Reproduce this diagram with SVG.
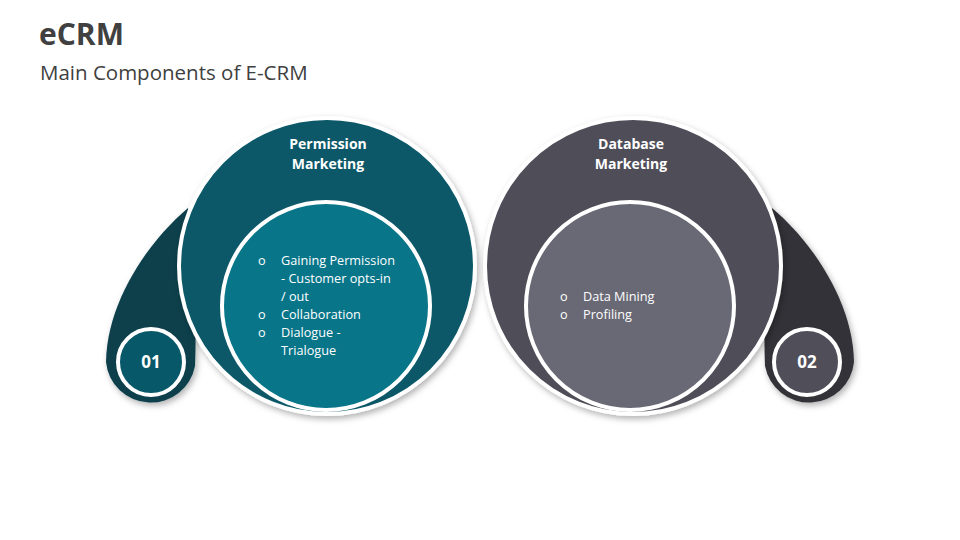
<svg xmlns="http://www.w3.org/2000/svg" width="960" height="540" viewBox="0 0 960 540">
<style>
.t{font-family:"Open Sans","Liberation Sans",sans-serif;fill:#fff}
.h{font-weight:bold;font-size:14px;text-anchor:middle}
.b{font-size:12.7px}
.n{font-weight:bold;font-size:17px;text-anchor:middle}
.ring{stroke:#fff;stroke-width:4}
</style>
<defs>
<filter id="sh" x="-20%" y="-20%" width="140%" height="140%">
<feDropShadow dx="2" dy="3" stdDeviation="3" flood-color="#000" flood-opacity="0.3"/>
</filter>
</defs>
<rect width="960" height="540" fill="#fff"/>
<text x="39" y="45" font-family="Open Sans, Liberation Sans, sans-serif" font-weight="bold" font-size="30" fill="#404040">eCRM</text>
<text x="40" y="80" font-family="Open Sans, Liberation Sans, sans-serif" font-size="20.5" fill="#404040">Main Components of E-CRM</text>

<g id="node1">
<path d="M188,208 C150,240 107,300 106,362 A45,45 0 0 0 195,366 C197,320 193,260 188,208 Z" fill="#0a3f4c" filter="url(#sh)"/>
<circle cx="327" cy="266" r="148" fill="#075868" class="ring" filter="url(#sh)"/>
<circle cx="326" cy="306" r="104" fill="#087589" class="ring"/>
<circle cx="151" cy="362" r="33" fill="#075868" class="ring"/>
<text class="t n" x="151" y="368">01</text>
<text class="t h" x="328" y="149">Permission</text>
<text class="t h" x="328" y="169">Marketing</text>
<g class="t b">
<text x="258" y="265">o</text>
<text x="281" y="265">Gaining Permission</text>
<text x="281" y="283">- Customer opts-in</text>
<text x="281" y="301">/ out</text>
<text x="258" y="319">o</text>
<text x="281" y="319">Collaboration</text>
<text x="258" y="337">o</text>
<text x="281" y="337">Dialogue -</text>
<text x="281" y="355">Trialogue</text>
</g>
</g>

<g id="node2">
<path d="M772,208 C810,240 853,300 854,362 A45,45 0 0 1 765,366 C763,320 767,260 772,208 Z" fill="#333338" filter="url(#sh)"/>
<circle cx="633" cy="266" r="148" fill="#4f4e59" class="ring" filter="url(#sh)"/>
<circle cx="630" cy="306" r="104" fill="#696975" class="ring"/>
<circle cx="807" cy="362" r="33" fill="#4f4e59" class="ring"/>
<text class="t n" x="807" y="368">02</text>
<text class="t h" x="631" y="149">Database</text>
<text class="t h" x="631" y="169">Marketing</text>
<g class="t b">
<text x="560" y="301">o</text>
<text x="583" y="301">Data Mining</text>
<text x="560" y="319">o</text>
<text x="583" y="319">Profiling</text>
</g>
</g>
<g id="connectors"/>
</svg>
